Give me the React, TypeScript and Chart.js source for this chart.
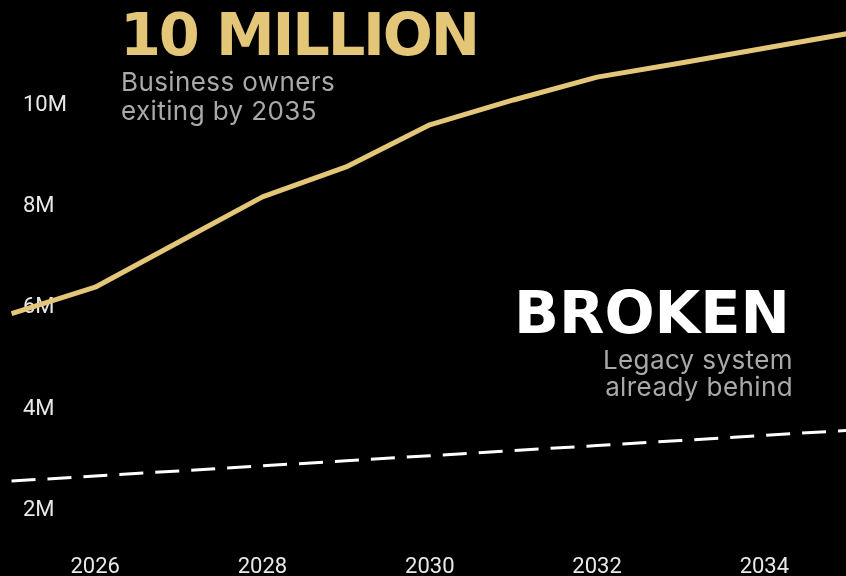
import React, { useEffect, useRef } from "react";
import { Chart, registerables } from "chart.js";

Chart.register(...registerables);

// ---- data (values in millions) ----
const years = [2025, 2026, 2027, 2028, 2029, 2030, 2031, 2032, 2033, 2034, 2035];
const exitingOwners = [5.85, 6.37, 7.26, 8.15, 8.74, 9.57, 10.06, 10.51, 10.79, 11.08, 11.37];
const legacyCapacity = [2.55, 2.65, 2.75, 2.85, 2.95, 3.05, 3.15, 3.25, 3.35, 3.45, 3.55];
const xTickYears = [2026, 2028, 2030, 2032, 2034];
const yTickValues = [2, 4, 6, 8, 10];

const GOLD = "#E3C677";
const GREY = "#A9A9A9";

export default function App() {
  const canvasRef = useRef<HTMLCanvasElement | null>(null);

  useEffect(() => {
    document.body.style.margin = "0";
    document.body.style.background = "#000";
    let chart: Chart | null = null;
    let cancelled = false;
    const build = () => {
      if (cancelled || !canvasRef.current) return;
      chart = new Chart(canvasRef.current, {
        type: "line",
        data: {
          datasets: [
            {
              label: "Business owners exiting",
              data: years.map((y, i) => ({ x: y, y: exitingOwners[i] })),
              borderColor: GOLD,
              borderWidth: 5,
              borderJoinStyle: "round",
              pointRadius: 0,
              tension: 0,
              fill: false,
            },
            {
              label: "Legacy system",
              data: years.map((y, i) => ({ x: y, y: legacyCapacity[i] })),
              borderColor: "#ffffff",
              borderWidth: 3,
              borderDash: [24, 12],
              pointRadius: 0,
              tension: 0,
              fill: false,
            },
          ],
        },
        options: {
          animation: false,
          responsive: true,
          maintainAspectRatio: false,
          layout: { padding: 0, autoPadding: false },
          plugins: {
            legend: { display: false },
            tooltip: { enabled: false },
            title: { display: false },
          },
          scales: {
            x: {
              type: "linear",
              min: 2024.862,
              max: 2034.976,
              grid: { display: false, drawTicks: false },
              border: { display: false },
              afterBuildTicks: (scale: any) => {
                scale.ticks = xTickYears.map((v) => ({ value: v }));
              },
              afterFit: (scale: any) => {
                scale.height = 25;
                scale.paddingLeft = 0;
                scale.paddingRight = 0;
              },
              ticks: {
                color: "#E8E8E8",
                padding: 5,
                font: { family: "Roboto", size: 22, lineHeight: 1 },
                callback: (v: any) => String(v),
              },
            },
            y: {
              type: "linear",
              min: 1.172,
              max: 12.03,
              grid: { display: false, drawTicks: false },
              border: { display: false },
              afterBuildTicks: (scale: any) => {
                scale.ticks = yTickValues.map((v) => ({ value: v }));
              },
              afterFit: (scale: any) => {
                scale.width = 0;
                scale.paddingTop = 0;
                scale.paddingBottom = 0;
              },
              ticks: {
                mirror: true,
                padding: 23,
                labelOffset: 2,
                color: "#E8E8E8",
                font: { family: "Roboto", size: 22, lineHeight: 1 },
                callback: (v: any) => `${v}M`,
              },
            },
          },
        },
      });
    };
    const fontsReady = (document as any).fonts
      ? Promise.all([
          (document as any).fonts.load("22px Roboto"),
        ]).catch(() => null)
      : Promise.resolve(null);
    fontsReady.then(build);
    return () => {
      cancelled = true;
      if (chart) chart.destroy();
    };
  }, []);

  return (
    <div
      style={{
        position: "fixed",
        left: 0,
        top: 0,
        width: 846,
        height: 576,
        background: "#000",
        overflow: "hidden",
      }}
    >
      <canvas ref={canvasRef} style={{ position: "absolute", left: 0, top: 0, width: 846, height: 576 }} />
      <div
        style={{
          position: "absolute",
          left: 120,
          top: 5,
          fontFamily: "'DejaVu Sans', sans-serif",
          fontWeight: 700,
          fontSize: 59,
          lineHeight: "59px",
          letterSpacing: "-2.2px",
          color: GOLD,
          whiteSpace: "nowrap",
        }}
      >
        10 MILLION
      </div>
      <div
        style={{
          position: "absolute",
          left: 121,
          top: 68,
          fontFamily: "Inter, sans-serif",
          fontSize: 26,
          letterSpacing: "0.4px",
          lineHeight: "28.5px",
          color: GREY,
          whiteSpace: "nowrap",
        }}
      >
        Business owners
        <br />
        exiting by 2035
      </div>
      <div
        style={{
          position: "absolute",
          right: 56,
          top: 284,
          fontFamily: "'DejaVu Sans', sans-serif",
          fontWeight: 700,
          fontSize: 59,
          lineHeight: "58px",
          color: "#ffffff",
          whiteSpace: "nowrap",
          textAlign: "right",
        }}
      >
        BROKEN
      </div>
      <div
        style={{
          position: "absolute",
          right: 53,
          top: 346,
          fontFamily: "Inter, sans-serif",
          fontSize: 26,
          letterSpacing: "0.4px",
          lineHeight: "27px",
          color: GREY,
          whiteSpace: "nowrap",
          textAlign: "right",
        }}
      >
        Legacy system
        <br />
        already behind
      </div>
    </div>
  );
}
